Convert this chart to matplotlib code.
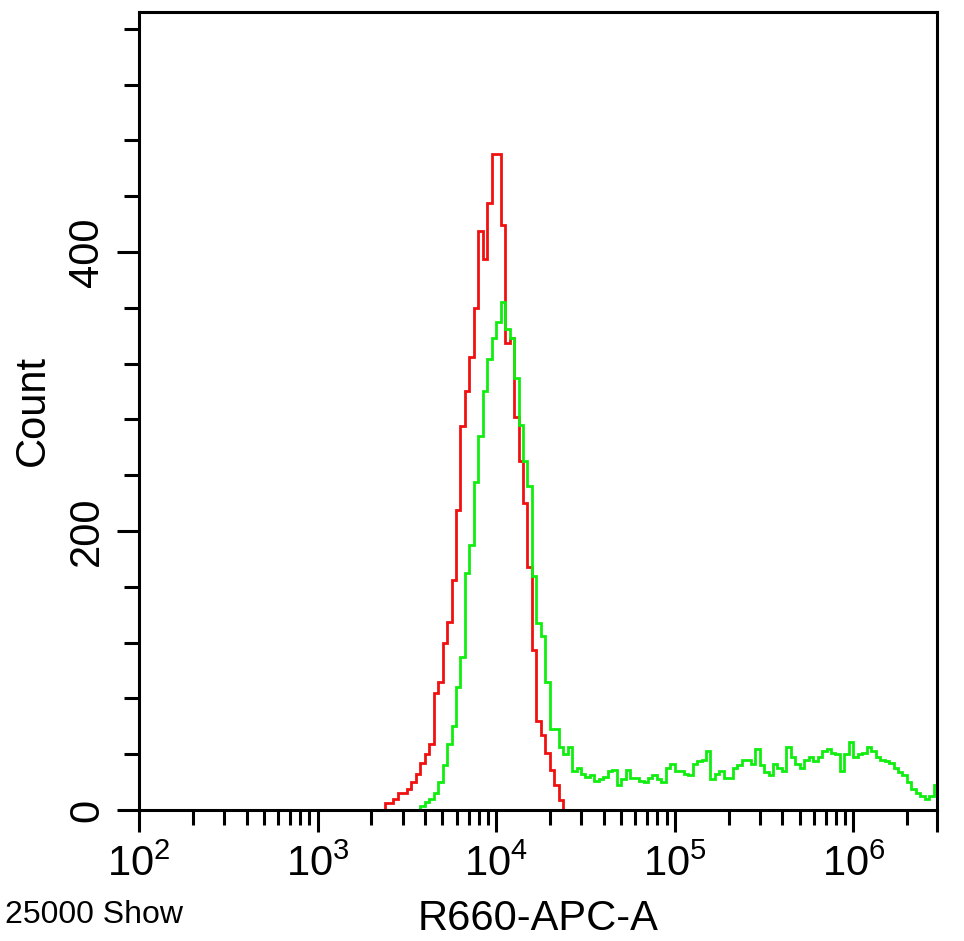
import numpy as np
import matplotlib
matplotlib.use("Agg")
import matplotlib.pyplot as plt
from matplotlib.ticker import FixedLocator, FixedFormatter, LogLocator, MultipleLocator

plt.rcParams['font.family'] = ['Liberation Sans', 'DejaVu Sans']
plt.rcParams['mathtext.fontset'] = 'custom'
plt.rcParams['mathtext.rm'] = 'Liberation Sans'

# ---- data (histogram channels: 40 bins per decade, log scale) ----
BINS_PER_DECADE = 40

red_first_bin = 135
red_counts = [5, 5, 8, 12, 12, 15, 20, 26, 34, 40,
              47, 84, 92, 120, 135, 165, 215, 275, 300, 325,
              360, 415, 395, 435, 470, 470, 419, 335, 338, 282,
              250, 220, 174, 115, 64, 54, 41, 29, 18, 7]

green_first_bin = 143
green_counts = [3, 6, 8, 12, 20, 32, 47, 60, 88, 110,
                170, 190, 235, 268, 300, 323, 338, 350, 364, 345,
                338, 310, 276, 250, 232, 168, 134, 125, 92, 58,
                58, 45, 40, 45, 28, 30, 26, 24, 25, 21,
                22, 24, 28, 29, 18, 22, 29, 23, 23, 21,
                20, 23, 25, 22, 20, 30, 33, 28, 28, 26,
                25, 33, 35, 36, 42, 22, 26, 28, 23, 23,
                30, 32, 36, 36, 33, 44, 32, 27, 25, 33,
                30, 28, 45, 38, 33, 30, 36, 38, 35, 38,
                42, 44, 41, 40, 28, 40, 49, 38, 40, 41,
                45, 42, 38, 36, 35, 34, 30, 27, 25, 20,
                15, 12, 10, 8, 10, 18]

x_min, x_max = 1e2, 2.94e6
y_max = 572
x_major = [1e2, 1e3, 1e4, 1e5, 1e6]
x_major_labels = [r'$\mathregular{10^{2}}$', r'$\mathregular{10^{3}}$',
                  r'$\mathregular{10^{4}}$', r'$\mathregular{10^{5}}$',
                  r'$\mathregular{10^{6}}$']
y_major = [0, 200, 400]
y_major_labels = ['0', '200', '400']
y_minor_step = 40

x_label = 'R660-APC-A'
y_label = 'Count'
footer = '25000 Show'

red_color = '#f01010'
green_color = '#10ee10'

# ---- figure ----
fig = plt.figure(figsize=(9.64, 9.41), dpi=100)
ax = fig.add_axes([139 / 964, 1 - 810 / 941, (937 - 139) / 964, (810 - 12) / 941])

def edges(first, n):
    return 10 ** (np.arange(first, first + n + 1) / BINS_PER_DECADE)

ax.stairs(red_counts, edges(red_first_bin, len(red_counts)), baseline=0,
          color=red_color, lw=2.0)
ax.stairs(green_counts, edges(green_first_bin, len(green_counts)), baseline=0,
          color=green_color, lw=2.0)

ax.set_xscale('log')
ax.set_xlim(x_min, x_max)
ax.set_ylim(0, y_max)

ax.xaxis.set_major_locator(FixedLocator(x_major + [x_max]))
ax.xaxis.set_major_formatter(FixedFormatter(x_major_labels + ['']))
ax.xaxis.set_minor_locator(LogLocator(base=10, subs=range(2, 10), numticks=50))
ax.xaxis.set_minor_formatter(FixedFormatter([]))

ax.yaxis.set_major_locator(FixedLocator(y_major))
ax.yaxis.set_major_formatter(FixedFormatter(y_major_labels))
ax.yaxis.set_minor_locator(MultipleLocator(y_minor_step))

for s in ax.spines.values():
    s.set_linewidth(2.2)
    s.set_color('black')

ax.tick_params(which='major', direction='out', length=16, width=2.2,
               labelsize=30, color='black')
ax.tick_params(which='minor', direction='out', length=11, width=2.2,
               color='black')
ax.tick_params(axis='x', which='major', pad=9)
ax.tick_params(axis='y', which='major', pad=7, labelrotation=90)
for lab in ax.get_yticklabels():
    lab.set_va('center')

ax.set_xlabel(x_label, fontsize=30)
ax.xaxis.set_label_coords(0.5, -0.112)
ax.set_ylabel(y_label, fontsize=30)
ax.yaxis.set_label_coords(-0.108, 0.5)

fig.text(5 / 964, 1 - 923 / 941, footer, fontsize=23, ha='left', va='baseline')

fig.savefig('out.png', dpi=100, facecolor='white')
